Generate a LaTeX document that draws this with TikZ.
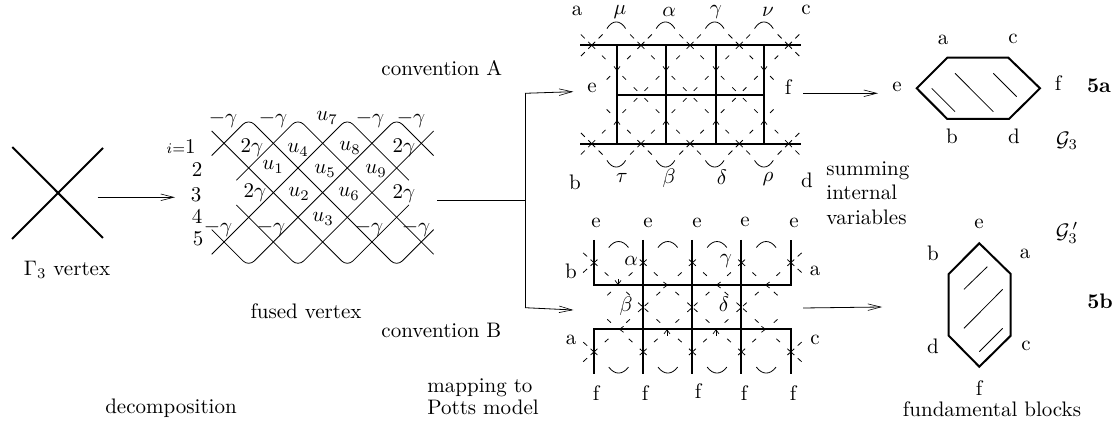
\documentclass[tikz,border=0pt]{standalone}
\usepackage{amsmath,amssymb,amsfonts}
\usepackage{tikz}
\usetikzlibrary{arrows.meta,positioning,calc}
\tikzset{
    thickline/.style={line width=1pt},
    thinline/.style={line width=0.4pt},
    cellline/.style={line width=0.4pt,dash pattern=on 0pt off 7.25pt on 2.5pt off 12pt on 2.5pt off 5.5pt on 2.5pt off 2.6pt},
    cornerline/.style={line width=0.4pt,dash pattern=on 0pt off 7.25pt on 2.5pt off 12pt on 2.5pt off 30pt},
    flowarrow/.style={line width=0.4pt,-{Straight Barb[length=6.5pt,width=3.3pt,line width=0.3pt]}},
    midarrow/.style={line width=0.4pt,-{Straight Barb[length=2pt,width=3pt,line width=0.35pt]}},
    lbl/.style={inner sep=0pt,scale=1.05,transform shape},
}
\begin{document}
\begin{tikzpicture}[x=0.5pt,y=-0.5pt]
    \useasboundingbox (0,0) rectangle (1118,421);
    % vertex
    \draw[thickline] (12.3,147) -- (103,238);
    \draw[thickline] (103,148) -- (12,239);
    \node[lbl] (vertexlabel) at (67,270) {$\Gamma_3$ vertex};
    \node[lbl] (decomp) at (171,408) {decomposition};
    \coordinate (vertexout) at (97.7,197.3);
    \coordinate (fusedin) at (175,197.3);
    \draw[flowarrow] (vertexout) -- (fusedin);
    % fused lattice
    \begin{scope}[shift={(224,143.3)},x=12.33pt,y=-12.33pt,thinline,rounded corners=4pt]
        \draw (-.5,.5) -- (1,-1) -- (7,5) -- (8.5,3.5);
        \draw (-.5,-.5) -- (5,5) -- (7.5,2.5);
        \draw (8.5,-.5) -- (3,5) -- (.5,2.5);
        \draw (8.5,.5) -- (7,-1) -- (1,5) -- (-.5,3.5);
        \draw (.5,1.5) -- (3,-1) -- (8.5,4.5);
        \draw (7.5,1.5) -- (5,-1) -- (-.5,4.5);
    \end{scope}
    \foreach \px/\py/\txt in {223/119/-\gamma,273/119/-\gamma,327/118/u_7,370/119/-\gamma,411/119/-\gamma,
        252/148/2\gamma,298/150/u_4,350/148/u_8,404/148/2\gamma,273/167/u_1,325/171/u_5,376/171/u_9,
        255/193/2\gamma,299/194/u_2,349/194/u_6,404/194/2\gamma,323/219/u_3,
        218/228/-\gamma,271/228/-\gamma,369/228/-\gamma,416/228/-\gamma}
        \node[lbl] at (\px,\py) {$\txt$};
    \node[lbl] (rowa) at (181,147) {$\scriptstyle i{=}$1};
    \node[lbl] (rowb) at (197,170) {2};
    \node[lbl] (rowc) at (196,195) {3};
    \node[lbl] (rowd) at (197,216) {4};
    \node[lbl] (rowe) at (198,239) {5};
    \node[lbl] (fused) at (306,311) {fused vertex};
    % branch
    \coordinate (fusedout) at (437,200.7);
    \coordinate (branch) at (525,200.7);
    \coordinate (brancha) at (525,93.3);
    \coordinate (branchb) at (525,307.7);
    \coordinate (ina) at (573.3,91.7);
    \coordinate (inb) at (573.3,310);
    \draw[line width=0.7pt] (fusedout) -- (branch);
    \draw[thinline] (brancha) -- (branchb);
    \draw[flowarrow] (brancha) -- (ina);
    \draw[flowarrow] (branchb) -- (inb);
    \node[lbl,anchor=west] (conva) at (381,68) {convention A};
    \node[lbl,anchor=west] (convb) at (381,330) {convention B};
    \node[lbl,align=left,anchor=west] (mapping) at (427,397) {mapping to\\[-1.4pt]Potts model};
    \node[lbl,align=left,anchor=west] (summing) at (826,193) {summing\\[-0.4pt]internal\\[-0.4pt]variables};
    % convention A
    \begin{scope}[shift={(591.7,45.3)},x=24.6pt,y=-24.6pt]
        \foreach \c in {0,1,2} {
            \draw[cellline] (\c,0) -- (\c+1,1);
            \draw[cellline] (\c,2) -- (\c+1,1);
            \draw[cellline] (\c+2,0) -- (\c+1,1);
            \draw[cellline] (\c+2,2) -- (\c+1,1);
        }
        \foreach \r in {0,2} {
            \draw[cornerline] (1,\r) -- (0,1);
            \draw[cornerline] (3,\r) -- (4,1);
        }
        \foreach \r/\s in {0/-1,2/1} {
            \foreach \c in {0,...,4} {
                \draw[thinline] (\c-.07,\r-.07) -- (\c+.07,\r+.07);
                \draw[thinline] (\c-.07,\r+.07) -- (\c+.07,\r-.07);
                \draw[thinline] (\c+.14,\r+\s*.14) -- (\c+.22,\r+\s*.22);
                \draw[thinline] (\c-.14,\r+\s*.14) -- (\c-.22,\r+\s*.22);
            }
            \draw[thinline] (-.14,\r-\s*.14) -- (-.22,\r-\s*.22);
            \draw[thinline] (4.14,\r-\s*.14) -- (4.22,\r-\s*.22);
            \foreach \c in {0,...,3}
                \draw[thinline] (\c+.31,\r+\s*.34) .. controls (\c+.42,\r+\s*.52) and (\c+.58,\r+\s*.52) .. (\c+.69,\r+\s*.34);
        }
    \end{scope}
    \draw[thickline] (580,45) -- (801,45);
    \draw[thickline] (580,144) -- (801,144);
    \draw[thickline] (617,95) -- (764,95);
    \foreach \vx in {617,666,716,764} {
        \draw[thickline] (\vx,45) -- (\vx,144);
        \draw[midarrow] (\vx,60) -- (\vx,71);
        \draw[midarrow] (\vx,132) -- (\vx,120);
    }
    \foreach \px/\py/\txt in {620/12/\mu,669/12/\alpha,716/12/\gamma,768/12/\nu,622/178/\tau,669/178/\beta,722/177/\delta,768/179/\rho}
        \node[lbl] at (\px,\py) {$\txt$};
    \foreach \px/\py/\txt in {577/11/a,806/10/c,592/88/e,788/87/f,575/182/b,807/180/d}
        \node[lbl] at (\px,\py) {\txt};
    % convention B
    \begin{scope}[shift={(594,262.7)},x=24.6pt,y=-22.3pt]
        \foreach \c in {0,1,2} {
            \draw[cellline] (\c,0) -- (\c+1,1);
            \draw[cellline] (\c,2) -- (\c+1,1);
            \draw[cellline] (\c+2,0) -- (\c+1,1);
            \draw[cellline] (\c+2,2) -- (\c+1,1);
        }
        \foreach \r in {0,2} {
            \draw[cornerline] (1,\r) -- (0,1);
            \draw[cornerline] (3,\r) -- (4,1);
        }
        \foreach \r/\s in {0/-1,2/1} {
            \foreach \c in {0,...,4} {
                \draw[thinline] (\c-.07,\r-.07) -- (\c+.07,\r+.07);
                \draw[thinline] (\c-.07,\r+.07) -- (\c+.07,\r-.07);
            }
            \draw[thinline] (-.14,\r+.14) -- (-.22,\r+.22);
            \draw[thinline] (-.14,\r-.14) -- (-.22,\r-.22);
            \draw[thinline] (4.14,\r+.14) -- (4.22,\r+.22);
            \draw[thinline] (4.14,\r-.14) -- (4.22,\r-.22);
            \foreach \c in {0,...,3}
                \draw[thinline] (\c+.3,\r+\s*.34) .. controls (\c+.42,\r+\s*.52) and (\c+.58,\r+\s*.52) .. (\c+.7,\r+\s*.34);
        }
    \end{scope}
    \draw[thickline] (594,240) -- (594,285) -- (790.7,285) -- (790.7,240);
    \draw[thickline] (594,374) -- (594,329.3) -- (790.7,329.3) -- (790.7,374);
    \foreach \vx in {643.3,692.3,741.3}
        \draw[thickline] (\vx,240) -- (\vx,374);
    \draw[midarrow] (618,279) -- (618,285);
    \draw[midarrow] (658,285) -- (668,285);
    \draw[midarrow] (726,285) -- (716,285);
    \draw[midarrow] (775,285) -- (765,285);
    \draw[midarrow] (630,329.3) -- (619,329.3);
    \draw[midarrow] (667,336) -- (667,329.3);
    \draw[midarrow] (716,336) -- (716,329.3);
    \draw[midarrow] (755,329.3) -- (766,329.3);
    \foreach \px/\py/\txt in {631/261/\alpha,726/261/\gamma,626/306/\beta,724/304/\delta}
        \node[lbl] at (\px,\py) {$\txt$};
    \foreach \px/\py/\txt in {596/223/e,648/223/e,697/223/e,745/222/e,794/223/e,571/271/b,815/271/a,571/340/a,815/340/c,
        596/393/f,645/393/f,698/391/f,744/393/f,793/393/f}
        \node[lbl] at (\px,\py) {\txt};
    % blocks
    \coordinate (outa) at (803,93.3);
    \coordinate (hexa) at (878,93.3);
    \coordinate (outb) at (803,308);
    \coordinate (hexb) at (882,307);
    \draw[flowarrow] (outa) -- (hexa);
    \draw[flowarrow] (outb) -- (hexb);
    \draw[thickline] (916.7,88.3) -- (947.3,57.7) -- (1008.3,57.7) -- (1040,88.3) -- (1009,119) -- (947.3,119) -- cycle;
    \draw[thinline] (955,73.3) -- (993.3,111.7);
    \draw[thinline] (993.3,73.3) -- (1016.7,96.7);
    \draw[thinline] (931.7,88.3) -- (955,111.7);
    \draw[thickline] (979.3,243.3) -- (1010.7,274) -- (1010.7,335.7) -- (979.3,366.7) -- (948.7,335.7) -- (948.7,274) -- cycle;
    \draw[thinline] (964,289.3) -- (987.3,266.7);
    \draw[thinline] (964,328.3) -- (1002.7,289.3);
    \draw[thinline] (979.3,351.7) -- (1002.7,328.3);
    \foreach \px/\py/\txt in {943/40/a,1013/39/c,897/87/e,1058/83/f,952/136/b,1014/136/d,
        979/224/e,933/253/b,1025/254/a,933/346/d,1026/346/c,979/388/f}
        \node[lbl] at (\px,\py) {\txt};
    \node[lbl] (blocks) at (992,409) {fundamental blocks};
    \node[lbl] (gthree) at (1067,141) {$\mathcal{G}_3$};
    \node[lbl] (gprime) at (1067,233) {$\mathcal{G}_3^{\,\prime}$};
    \node[lbl] (fivea) at (1099,86) {\textbf{5a}};
    \node[lbl] (fiveb) at (1100,301) {\textbf{5b}};
\end{tikzpicture}
\end{document}
